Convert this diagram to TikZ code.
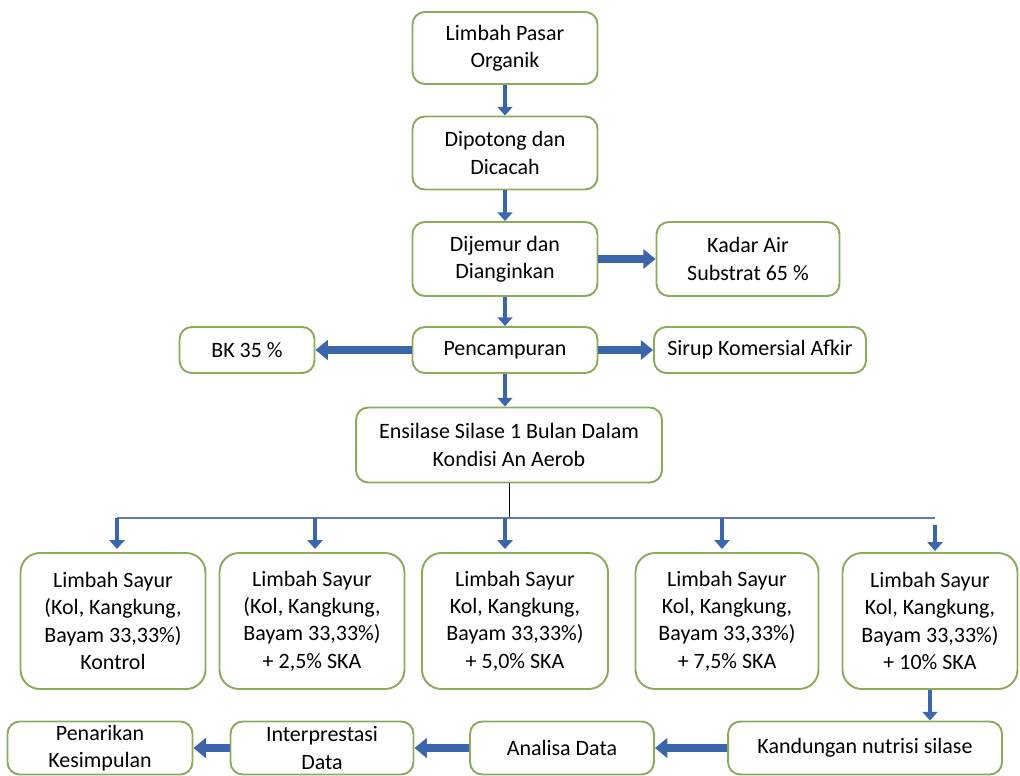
\documentclass[tikz,border=0pt]{standalone}
\usepackage{fontspec}
\setmainfont{Carlito}
\usetikzlibrary{arrows.meta}
\definecolor{boxgreen}{HTML}{8DAA5B}
\definecolor{arrowblue}{HTML}{3B66AC}
\definecolor{linegrey}{HTML}{5E7DAE}
\tikzset{
  stepbox/.style={draw=boxgreen,line width=1.1pt,rounded corners=7pt,align=center,
    fill=white,font=\fontsize{12.5}{15.5}\selectfont,inner sep=2pt},
  bigbox/.style={stepbox,rounded corners=11pt,minimum height=2.72cm},
  downarr/.style={draw=arrowblue,line width=2.8pt,-{Triangle[width=8.5pt,length=5pt]}},
  sidearr/.style={draw=arrowblue,line width=4.4pt,-{Triangle[width=11pt,length=7pt]}}
}
\begin{document}
\begin{tikzpicture}[x=0.02cm,y=0.02cm]
   \useasboundingbox (0,0) rectangle (1020,-776);
   % upper chain
   \node[stepbox,minimum width=3.7cm,minimum height=1.44cm] (pasar) at (505,-48) {Limbah Pasar\\Organik};
   \node[stepbox,minimum width=3.7cm,minimum height=1.46cm] (potong) at (505,-153) {Dipotong dan\\Dicacah};
   \node[stepbox,minimum width=3.7cm,minimum height=1.48cm] (jemur) at (505,-259) {Dijemur dan\\Dianginkan};
   \node[stepbox,minimum width=3.66cm,minimum height=1.48cm] (kadar) at (748,-259) {Kadar Air\\Substrat 65 \%};
   \node[stepbox,minimum width=3.7cm,minimum height=0.92cm] (campur) at (505,-350) {Pencampuran};
   \node[stepbox,minimum width=2.7cm,minimum height=0.92cm] (bk) at (247,-350) {BK 35 \%};
   \node[stepbox,minimum width=4.24cm,minimum height=0.92cm] (sirup) at (760,-350) {Sirup Komersial Afkir};
   \node[stepbox,minimum width=6.12cm,minimum height=1.5cm] (ensilase) at (509,-445) {Ensilase Silase 1 Bulan Dalam\\Kondisi An Aerob};
   % treatments
   \node[bigbox,minimum width=3.7cm] (kontrol) at (113,-621) {Limbah Sayur\\(Kol, Kangkung,\\Bayam 33,33\%)\\Kontrol};
   \node[bigbox,minimum width=3.7cm] (ska25) at (312,-621) {Limbah Sayur\\(Kol, Kangkung,\\Bayam 33,33\%)\\+ 2,5\% SKA};
   \node[bigbox,minimum width=3.72cm] (ska50) at (515,-621) {Limbah Sayur\\Kol, Kangkung,\\Bayam 33,33\%)\\+ 5,0\% SKA};
   \node[bigbox,minimum width=3.66cm] (ska75) at (727,-621) {Limbah Sayur\\Kol, Kangkung,\\Bayam 33,33\%)\\+ 7,5\% SKA};
   \node[bigbox,minimum width=3.5cm] (ska10) at (930,-621) {Limbah Sayur\\Kol, Kangkung,\\Bayam 33,33\%)\\+ 10\% SKA};
   % lower chain
   \node[stepbox,minimum width=5.48cm,minimum height=1.06cm] (nutrisi) at (865,-748) {Kandungan nutrisi silase};
   \node[stepbox,minimum width=3.68cm,minimum height=1.06cm] (analisa) at (562,-748) {Analisa Data};
   \node[stepbox,minimum width=3.66cm,minimum height=1.06cm] (interp) at (322,-748) {Interprestasi\\Data};
   \node[stepbox,minimum width=3.7cm,minimum height=1.06cm] (tarik) at (100,-748) {Penarikan\\Kesimpulan};
   % branching line
   \coordinate (split) at (509,-518);
   \coordinate (bl) at (117,-518);
   \coordinate (br) at (935,-518);
   \draw[black,line width=0.5pt] (ensilase.south)--(split);
   \draw[linegrey,line width=0.9pt] (bl)--(br);
   \draw[downarr] (bl)--(117,-549);
   \draw[downarr] (315,-518)--(315,-549);
   \draw[downarr] (505,-518)--(505,-549);
   \draw[downarr] (722,-518)--(722,-549);
   \draw[downarr] (935,-525)--(935,-551);
   % arrows
   \draw[downarr] (pasar)--(potong);
   \draw[downarr] (potong)--(jemur);
   \draw[downarr] (jemur)--(campur);
   \draw[downarr] (campur)--(campur|-ensilase.north);
   \draw[sidearr] (jemur)--(kadar);
   \draw[sidearr] (campur)--(bk);
   \draw[sidearr] (campur)--(sirup);
   \draw[downarr] (ska10)--(ska10|-nutrisi.north);
   \draw[sidearr] (nutrisi)--(analisa);
   \draw[sidearr] (analisa)--(interp);
   \draw[sidearr] (interp)--(tarik);
\end{tikzpicture}
\end{document}
